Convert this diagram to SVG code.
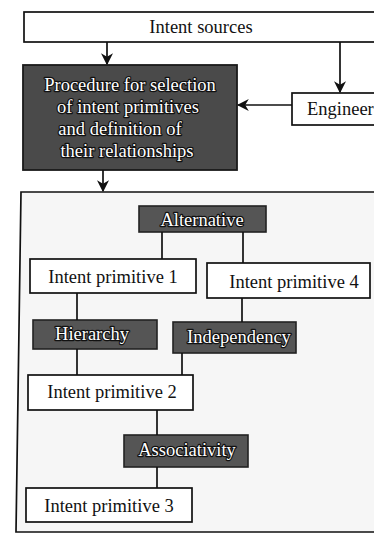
<svg xmlns="http://www.w3.org/2000/svg" width="374" height="537" viewBox="0 0 374 537">
  <style>
    .box { fill: #ffffff; stroke: #111111; stroke-width: 1.7; }
    .dark { fill: #555555; stroke: #222222; stroke-width: 1.6; }
    .proc { fill: #4a4a4a; stroke: #1a1a1a; stroke-width: 1.8; }
    .frame { fill: #f6f6f6; stroke: #111111; stroke-width: 1.7; }
    .lbl { font-family: "Liberation Serif", "Times New Roman", serif; font-size: 18.5px; fill: #111111; }
    .inv { font-family: "Liberation Serif", "Times New Roman", serif; font-size: 18.5px; fill: #ffffff; stroke: #111111; stroke-width: 2.4; paint-order: stroke; stroke-linejoin: round; }
    .wire { fill: none; stroke: #111111; stroke-width: 1.7; }
  </style>
  <defs>
    <marker id="arrow" viewBox="0 0 10 10" refX="9" refY="5" markerWidth="12" markerHeight="12" markerUnits="userSpaceOnUse" orient="auto">
      <path d="M0,0 L10,5 L0,10 L3,5 z" fill="#111111"/>
    </marker>
  </defs>

  <rect width="374" height="537" fill="#ffffff"/>

  <!-- outer frame holding the intent primitives -->
  <g id="primitives-frame">
    <path class="frame" d="M21,192 L380,192 L380,532 L16,532 Z"/>
  </g>

  <g id="intent-sources">
    <rect class="box" x="24" y="12" width="360" height="30"/>
    <text class="lbl" x="201" y="33" text-anchor="middle">Intent sources</text>
  </g>

  <g id="procedure">
    <rect class="proc" x="23" y="65" width="214" height="105"/>
    <text class="inv" x="130" y="91" text-anchor="middle">Procedure for selection</text>
    <text class="inv" x="128" y="113" text-anchor="middle">of intent primitives</text>
    <text class="inv" x="120" y="135" text-anchor="middle">and definition of</text>
    <text class="inv" x="127" y="157" text-anchor="middle">their relationships</text>
  </g>

  <g id="engineer">
    <rect class="box" x="292" y="93" width="90" height="32"/>
    <text class="lbl" x="307" y="115">Engineer</text>
  </g>

  <g id="alternative">
    <rect class="dark" x="139" y="206" width="127" height="26"/>
    <text class="inv" x="202" y="226" text-anchor="middle">Alternative</text>
  </g>

  <g id="intent-primitive-1">
    <rect class="box" x="30" y="259" width="166" height="34"/>
    <text class="lbl" x="113" y="283" text-anchor="middle">Intent primitive 1</text>
  </g>

  <g id="intent-primitive-4">
    <rect class="box" x="207" y="263" width="163" height="35"/>
    <text class="lbl" x="294" y="288" text-anchor="middle">Intent primitive 4</text>
  </g>

  <g id="hierarchy">
    <rect class="dark" x="33" y="320" width="124" height="29"/>
    <text class="inv" x="92" y="340" text-anchor="middle">Hierarchy</text>
  </g>

  <g id="independency">
    <rect class="dark" x="173" y="322" width="123" height="31"/>
    <text class="inv" x="239" y="343" text-anchor="middle">Independency</text>
  </g>

  <g id="intent-primitive-2">
    <rect class="box" x="28" y="375" width="165" height="35"/>
    <text class="lbl" x="112" y="398" text-anchor="middle">Intent primitive 2</text>
  </g>

  <g id="associativity">
    <rect class="dark" x="124" y="435" width="124" height="32"/>
    <text class="inv" x="187" y="456" text-anchor="middle">Associativity</text>
  </g>

  <g id="intent-primitive-3">
    <rect class="box" x="26" y="488" width="166" height="34"/>
    <text class="lbl" x="109" y="512" text-anchor="middle">Intent primitive 3</text>
  </g>

  <g id="connectors">
    <!-- directed flow -->
    <line class="wire" x1="107" y1="42" x2="107" y2="64" marker-end="url(#arrow)"/>
    <line class="wire" x1="340" y1="42" x2="340" y2="92" marker-end="url(#arrow)"/>
    <line class="wire" x1="292" y1="105" x2="238" y2="105" marker-end="url(#arrow)"/>
    <line class="wire" x1="103" y1="170" x2="103" y2="191" marker-end="url(#arrow)"/>
    <!-- relationship links -->
    <line class="wire" x1="162" y1="232" x2="162" y2="259"/>
    <line class="wire" x1="243" y1="232" x2="243" y2="263"/>
    <line class="wire" x1="77" y1="293" x2="77" y2="320"/>
    <line class="wire" x1="242" y1="298" x2="242" y2="322"/>
    <line class="wire" x1="77" y1="349" x2="77" y2="375"/>
    <line class="wire" x1="182" y1="353" x2="182" y2="375"/>
    <line class="wire" x1="157" y1="410" x2="157" y2="435"/>
    <line class="wire" x1="157" y1="467" x2="157" y2="488"/>
  </g>
</svg>
